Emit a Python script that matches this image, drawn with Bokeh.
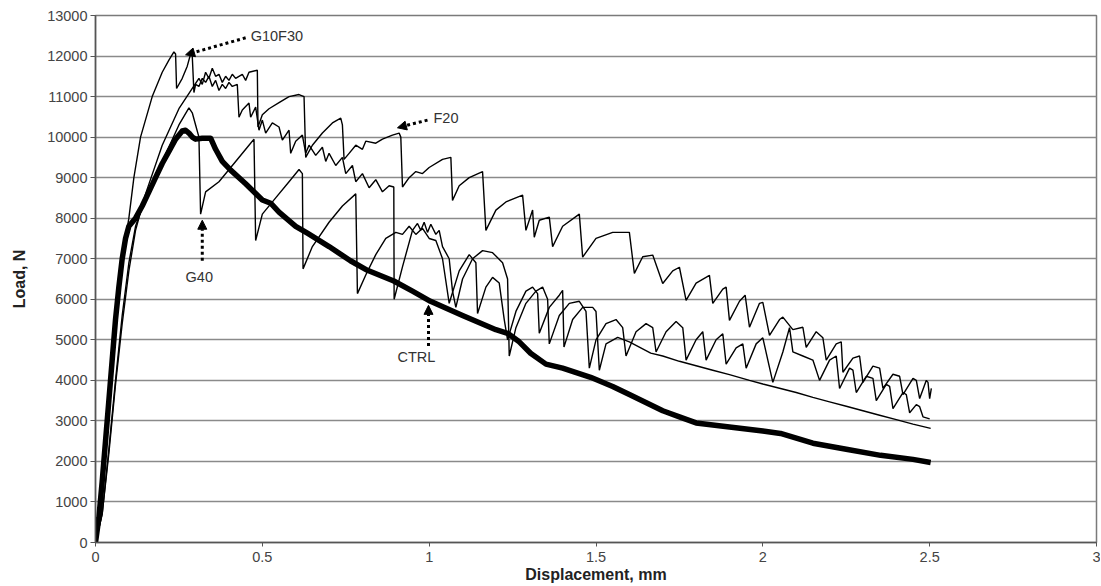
from bokeh.plotting import figure
from bokeh.models import FixedTicker, CustomJSTickFormatter, Arrow, NormalHead, Range1d, ColumnDataSource
from bokeh.core.properties import value
from bokeh.embed import file_html
from bokeh.resources import INLINE

# ---------------- data ----------------
ctrl_x = [0, 0.01, 0.02, 0.03, 0.04, 0.05, 0.06, 0.07, 0.08, 0.09, 0.1, 0.11, 0.12, 0.14, 0.16, 0.18, 0.2,
          0.22, 0.24, 0.26, 0.27, 0.28, 0.29, 0.3, 0.32, 0.345, 0.36, 0.38, 0.405, 0.45, 0.5, 0.525, 0.55,
          0.6, 0.635, 0.7, 0.764, 0.815, 0.894, 0.95, 1.004, 1.1, 1.2, 1.235, 1.27, 1.304, 1.35, 1.4,
          1.484, 1.55, 1.6, 1.7, 1.75, 1.8, 1.9, 2.0, 2.053, 2.15, 2.25, 2.353, 2.45, 2.503]
ctrl_y = [0, 600, 1500, 2500, 3500, 4500, 5500, 6300, 7000, 7500, 7800, 7900, 8000, 8300, 8650, 9000, 9350,
          9650, 9950, 10150, 10170, 10100, 10000, 9950, 9970, 9975, 9700, 9400, 9185, 8850, 8450, 8370, 8150,
          7800, 7630, 7300, 6950, 6715, 6450, 6200, 5950, 5600, 5250, 5160, 4950, 4670, 4400, 4300,
          4075, 3850, 3650, 3250, 3100, 2950, 2850, 2750, 2690, 2450, 2300, 2150, 2050, 1975]

f20_x = [0, 0.02, 0.04, 0.06, 0.08, 0.1, 0.12, 0.15, 0.2, 0.25, 0.29, 0.31, 0.32, 0.33, 0.34, 0.35, 0.36,
         0.37, 0.38, 0.39, 0.40, 0.41, 0.42, 0.44, 0.45, 0.46, 0.485, 0.487, 0.5, 0.52, 0.55, 0.58, 0.61,
         0.625, 0.63, 0.65, 0.68, 0.71, 0.735, 0.74, 0.745, 0.76, 0.78, 0.8, 0.81, 0.84, 0.86, 0.89, 0.91,
         0.915, 0.92, 0.94, 0.96, 0.98, 1.0, 1.04, 1.065, 1.07, 1.09, 1.12, 1.16, 1.17, 1.2, 1.23, 1.28,
         1.29, 1.31, 1.315, 1.33, 1.36, 1.37, 1.4, 1.45, 1.46, 1.5, 1.55, 1.6, 1.615, 1.64, 1.67, 1.7,
         1.73, 1.75, 1.77, 1.8, 1.84, 1.85, 1.88, 1.89, 1.9, 1.93, 1.947, 1.96, 1.99, 2.0, 2.02, 2.05,
         2.06, 2.09, 2.12, 2.13, 2.16, 2.18, 2.19, 2.22, 2.235, 2.24, 2.27, 2.29, 2.3, 2.33, 2.35, 2.36,
         2.39, 2.41, 2.42, 2.45, 2.46, 2.47, 2.49, 2.495, 2.5, 2.505]
f20_y = [0, 700, 2200, 3900, 5400, 6700, 7700, 8600, 9800, 10700, 11200, 11450, 11300, 11600, 11450, 11700, 11500,
         11550, 11350, 11500, 11400, 11550, 11450, 11550, 11400, 11600, 11650, 10250, 10550, 10700, 10850, 11000, 11050,
         11000, 9500, 9800, 10100, 10350, 10470, 10300, 9450, 9600, 9800, 9700, 9900, 9850, 9950, 10050, 10100,
         10000, 8770, 9000, 9150, 9100, 9250, 9450, 9500, 8440, 8800, 9000, 9150, 7700, 8200, 8400, 8570,
         7700, 8200, 7530, 7950, 8025, 7300, 7800, 8100, 7040, 7500, 7650, 7650, 6640, 7050, 7090, 6390,
         6700, 6790, 5975, 6400, 6590, 5900, 6250, 6300, 5480, 5950, 6100, 5310, 5900, 5925, 5110, 5500,
         5560, 5250, 5310, 4815, 5200, 5050, 4500, 4900, 4950, 4200, 4550, 4600, 3950, 4350, 4300, 3800,
         4150, 4100, 3650, 4050, 4000, 3550, 4000, 3950, 3550, 3800]

g10f30_x = [0, 0.015, 0.03, 0.045, 0.06, 0.075, 0.09, 0.1, 0.115, 0.135, 0.17, 0.2, 0.22, 0.235, 0.24, 0.243,
            0.26, 0.275, 0.285, 0.29, 0.295, 0.3, 0.31, 0.32, 0.33, 0.34, 0.35, 0.36, 0.37, 0.38, 0.39, 0.4,
            0.41, 0.425, 0.43, 0.44, 0.46, 0.465, 0.48, 0.49, 0.5, 0.51, 0.53, 0.55, 0.56, 0.58, 0.585, 0.6,
            0.62, 0.63, 0.64, 0.66, 0.68, 0.69, 0.7, 0.72, 0.74, 0.75, 0.77, 0.78, 0.8, 0.82, 0.84, 0.86,
            0.88, 0.894, 0.895, 0.92, 0.95, 0.965, 0.975, 0.985, 0.995, 1.005, 1.02, 1.03, 1.04, 1.06, 1.07,
            1.08, 1.1, 1.13, 1.16, 1.19, 1.22, 1.235, 1.24, 1.26, 1.29, 1.32, 1.34, 1.355, 1.36, 1.39, 1.42,
            1.45, 1.47, 1.48, 1.5, 1.53, 1.56, 1.58, 1.59, 1.62, 1.65, 1.67, 1.68, 1.71, 1.74, 1.76, 1.77,
            1.8, 1.82, 1.83, 1.86, 1.88, 1.89, 1.92, 1.94, 1.95, 1.98, 2.0, 2.03, 2.06, 2.08, 2.09, 2.12,
            2.15, 2.17, 2.2, 2.22, 2.23, 2.26, 2.27, 2.28, 2.31, 2.33, 2.34, 2.37, 2.38, 2.39, 2.42, 2.43,
            2.44, 2.46, 2.47, 2.48, 2.5]
g10f30_y = [0, 800, 2200, 3800, 5200, 6500, 7500, 8000, 9000, 10000, 11000, 11600, 11900, 12100, 12050, 11200,
            11450, 11750, 12050, 12000, 11100, 11300, 11250, 11450, 11350, 11500, 11250, 11400, 11150, 11300, 11200, 11350,
            11250, 11300, 10490, 10670, 10840, 10490, 10740, 10170, 10420, 10100, 10350, 10250, 9925, 10170, 9600, 9900,
            10050, 9600, 9800, 9550, 9750, 9400, 9600, 9300, 9500, 9100, 9300, 8900, 9100, 8750, 8950, 8650,
            8800, 8770, 6000, 6800, 7700, 7870, 7700, 7900, 7650, 7850, 7600, 7700, 7300, 7000, 6200,
            5800, 6500, 7000, 7200, 7150, 6900, 6500, 4600, 5300, 5900, 6200, 6300, 6000, 4900, 5600, 5900,
            5950, 5700, 4300, 5000, 5400, 5500, 5300, 4600, 5200, 5400, 5300, 4700, 5200, 5450, 5300, 4500,
            5000, 5200, 4500, 5000, 5150, 4400, 4800, 4900, 4300, 4900, 5050, 3950, 4700, 5300, 4700, 4600,
            4500, 4000, 4500, 4600, 3800, 4300, 4250, 3700, 4100, 4050, 3500, 3900, 3850, 3300, 3700, 3650,
            3200, 3400, 3350, 3100, 3050]

g40_x = [0, 0.02, 0.04, 0.06, 0.08, 0.1, 0.12, 0.15, 0.2, 0.25, 0.28, 0.29, 0.3, 0.31, 0.315, 0.33, 0.37,
         0.42, 0.46, 0.475, 0.48, 0.5, 0.54, 0.58, 0.61, 0.62, 0.622, 0.65, 0.7, 0.74, 0.78, 0.785, 0.81,
         0.84, 0.87, 0.9, 0.92, 0.94, 0.96, 0.98, 1.0, 1.02, 1.04, 1.06, 1.09, 1.12, 1.14, 1.145, 1.17,
         1.19, 1.21, 1.225, 1.235, 1.26, 1.29, 1.31, 1.325, 1.33, 1.36, 1.39, 1.4, 1.404, 1.43, 1.46, 1.49,
         1.5, 1.51, 1.53, 1.565, 1.6, 1.664, 1.7, 1.75, 1.8, 1.85, 1.9, 1.96, 2.0, 2.053, 2.1, 2.15, 2.2,
         2.25, 2.3, 2.35, 2.4, 2.45, 2.503]
g40_y = [0, 700, 2300, 4000, 5600, 6900, 7800, 8500, 9400, 10300, 10720, 10600, 10300, 10000, 8100, 8650, 8900,
         9400, 9800, 9950, 7450, 8100, 8500, 8900, 9200, 9100, 6750, 7300, 7900, 8300, 8600, 6140, 6600,
         7100, 7500, 7650, 7600, 7800, 7600, 7750, 7500, 7450, 7000, 5900, 6700, 7100, 6900, 5650, 6300,
         6540, 6400, 5500, 5000, 5700, 6200, 6300, 6140, 5160, 5800, 6100, 6220, 4820, 5500, 5800, 5800,
         5700, 4250, 4900, 5060, 4950, 4670, 4600, 4470, 4360, 4250, 4140, 4000, 3910, 3800, 3700, 3580, 3470,
         3360, 3250, 3140, 3030, 2920, 2815]

# annotation labels
ann_text = ["G10F30", "F20", "G40", "CTRL"]
ann_x = [0.465, 1.013, 0.27, 0.905]
ann_y = [12500, 10470, 6550, 4570]
arr_x0 = [0.45, 0.995, 0.32, 0.998]
arr_y0 = [12450, 10420, 6950, 4850]
arr_x1 = [0.27, 0.905, 0.32, 0.998]
arr_y1 = [12030, 10230, 7950, 5850]

x_ticks = [0, 0.5, 1, 1.5, 2, 2.5, 3]
y_ticks = list(range(0, 13001, 1000))

# ---------------- figure ----------------
FONT = "Liberation Sans"
p = figure(width=1100, height=586, output_backend="svg", toolbar_location=None,
           x_range=Range1d(0, 3), y_range=Range1d(0, 13000),
           min_border_left=95, min_border_top=15, min_border_right=4, min_border_bottom=44)
p.background_fill_color = "white"
p.border_fill_color = "white"
p.outline_line_color = "#7a7a7a"
p.outline_line_width = 1.5

p.xgrid.visible = False
p.ygrid.ticker = FixedTicker(ticks=y_ticks)
p.ygrid.grid_line_color = "#8a8a8a"
p.ygrid.grid_line_width = 1.5

for ax in (p.xaxis[0], p.yaxis[0]):
    ax.axis_line_color = "#555555"
    ax.axis_line_width = 1.5
    ax.major_tick_line_color = "#555555"
    ax.minor_tick_line_color = None
    ax.major_tick_in = 0
    ax.major_label_text_font = FONT
    ax.major_label_text_font_size = "14.5px"
    ax.major_label_text_color = "#444444"
    ax.axis_label_text_font = FONT
    ax.axis_label_text_font_style = "bold"
    ax.axis_label_text_color = "#222222"

p.xaxis.ticker = FixedTicker(ticks=x_ticks)
p.xaxis.formatter = CustomJSTickFormatter(code="return String(tick);")
p.xaxis.major_tick_out = 4
p.xaxis.major_label_standoff = 5
p.xaxis.axis_label = "Displacement, mm"
p.xaxis.axis_label_text_font_size = "16px"
p.xaxis.axis_label_standoff = 1

p.yaxis.ticker = FixedTicker(ticks=y_ticks)
p.yaxis.formatter = CustomJSTickFormatter(code="return String(tick);")
p.yaxis.major_tick_out = 5
p.yaxis.major_label_standoff = 3
p.yaxis.axis_label = "Load, N"
p.yaxis.axis_label_text_font_size = "16px"
p.yaxis.axis_label_standoff = 16

# curves
p.line(g40_x, g40_y, line_color="black", line_width=1.4)
p.line(g10f30_x, g10f30_y, line_color="black", line_width=1.4)
p.line(f20_x, f20_y, line_color="black", line_width=1.4)
p.line(ctrl_x, ctrl_y, line_color="black", line_width=5.5, line_join="round")

# annotations
src = ColumnDataSource(dict(x=ann_x, y=ann_y, t=ann_text))
p.text(x="x", y="y", text="t", source=src, text_font=value(FONT), text_font_size="14.5px",
       text_color="#333333", text_align="left", text_baseline="middle")
for i in range(len(ann_text)):
    p.add_layout(Arrow(x_start=arr_x0[i], y_start=arr_y0[i], x_end=arr_x1[i], y_end=arr_y1[i],
                       line_color="black", line_width=3, line_dash="3 3",
                       end=NormalHead(size=9, fill_color="black", line_color="black", line_width=1)))

open("out.html", "w").write(file_html(p, INLINE))
